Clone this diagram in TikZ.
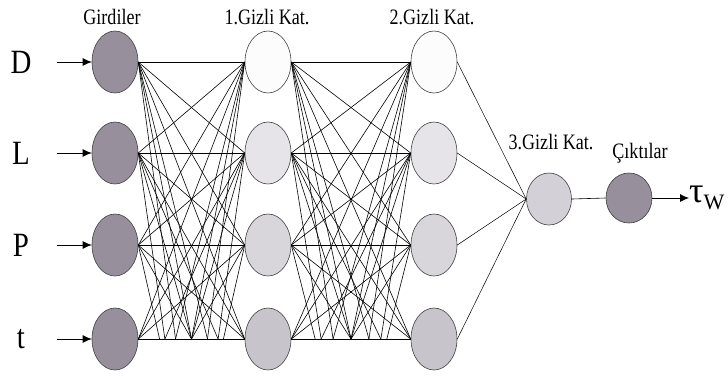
\documentclass[tikz,border=0pt]{standalone}
\usepackage{fontspec}
\setmainfont{Liberation Serif}
\usetikzlibrary{shapes.geometric,arrows.meta,calc}
\definecolor{inpc}{RGB}{152,143,157}
\definecolor{ha}{RGB}{252,252,253}
\definecolor{hb}{RGB}{230,228,232}
\definecolor{hc}{RGB}{216,213,219}
\definecolor{hd}{RGB}{200,196,203}
\definecolor{kc}{RGB}{212,208,215}
\newcommand{\lbltext}[1]{\scalebox{0.82}[1]{\fontsize{22}{22}\selectfont #1}}
\begin{document}
\begin{tikzpicture}[x=1pt,y=-1pt,
  neuron/.style={ellipse,draw=black!75,line width=0.6pt,minimum width=46pt,minimum height=62pt,inner sep=0pt},
  conn/.style={line width=0.6pt,black},
  lbl/.style={inner sep=0pt},
  varlbl/.style={inner sep=0pt},
  inarrow/.style={-{Latex[length=9pt,width=8pt]},line width=0.8pt}]
\useasboundingbox (0,0) rectangle (728,376);
% input layer
\foreach \i/\y/\v in {1/62/D,2/153/L,3/245/P,4/339/t}{
  \node[neuron,fill=inpc] (i\i) at (115,\y) {};
  \node[varlbl] (v\i) at (21,\y) {\scalebox{0.85}[1]{\fontsize{34}{34}\selectfont \v}};
  \coordinate (s\i) at (57,\y);
}
% hidden layer 1
\node[neuron,fill=ha] (h1) at (268,62) {};
\node[neuron,fill=hb] (h2) at (268,153) {};
\node[neuron,fill=hc] (h3) at (268,245) {};
\node[neuron,fill=hd] (h4) at (268,339) {};
% hidden layer 2
\node[neuron,fill=ha] (g1) at (434,62) {};
\node[neuron,fill=hb] (g2) at (434,153) {};
\node[neuron,fill=hc] (g3) at (434,245) {};
\node[neuron,fill=hd] (g4) at (434,339) {};
% hidden layer 3 and output
\node[neuron,fill=kc,minimum width=45pt,minimum height=52pt] (k) at (549,199) {};
\node[neuron,fill=inpc,minimum width=46pt,minimum height=50pt] (o) at (629,198) {};
\node[inner sep=0pt,anchor=west] (tau) at (689,198) {\fontsize{36}{36}\selectfont τ\raisebox{-7pt}{\fontsize{22}{22}\selectfont W}};
% labels
\node[lbl] (l0) at (112,17) {\lbltext{Girdiler}};
\node[lbl] (l1) at (267,17) {\lbltext{1.Gizli Kat.}};
\node[lbl] (l2) at (432,17) {\lbltext{2.Gizli Kat.}};
\node[lbl] (l3) at (551,142) {\lbltext{3.Gizli Kat.}};
\node[lbl] (l4) at (640,153) {\lbltext{Çıktılar}};
% input arrows
\foreach \i in {1,...,4}{\draw[inarrow] (s\i) -- (i\i.west);}
% full connections
\foreach \a in {1,...,4}{\foreach \b in {1,...,4}{
  \draw[conn] (i\a.east) -- (h\b.west);
  \draw[conn] (h\a.east) -- (g\b.west);
}}
% extra fan lines to bottom line
\foreach \r/\f in {1/0.35,1/0.5,1/0.65,2/0.25,2/0.5,2/0.75,3/0.2,3/0.5}{
  \draw[conn] (i\r.east) -- ($(i4.east)!\f!(h4.west)$);
  \draw[conn] (h\r.west) -- ($(h4.west)!\f!(i4.east)$);
  \draw[conn] (h\r.east) -- ($(h4.east)!\f!(g4.west)$);
  \draw[conn] (g\r.west) -- ($(g4.west)!\f!(h4.east)$);
}
% to layer 3
\foreach \a in {1,...,4}{\draw[line width=0.5pt] (g\a.east) -- (k.west);}
\draw[conn] (k.east) -- (o.west);
\draw[inarrow] (o.east) -- (tau.west);
\end{tikzpicture}
\end{document}
